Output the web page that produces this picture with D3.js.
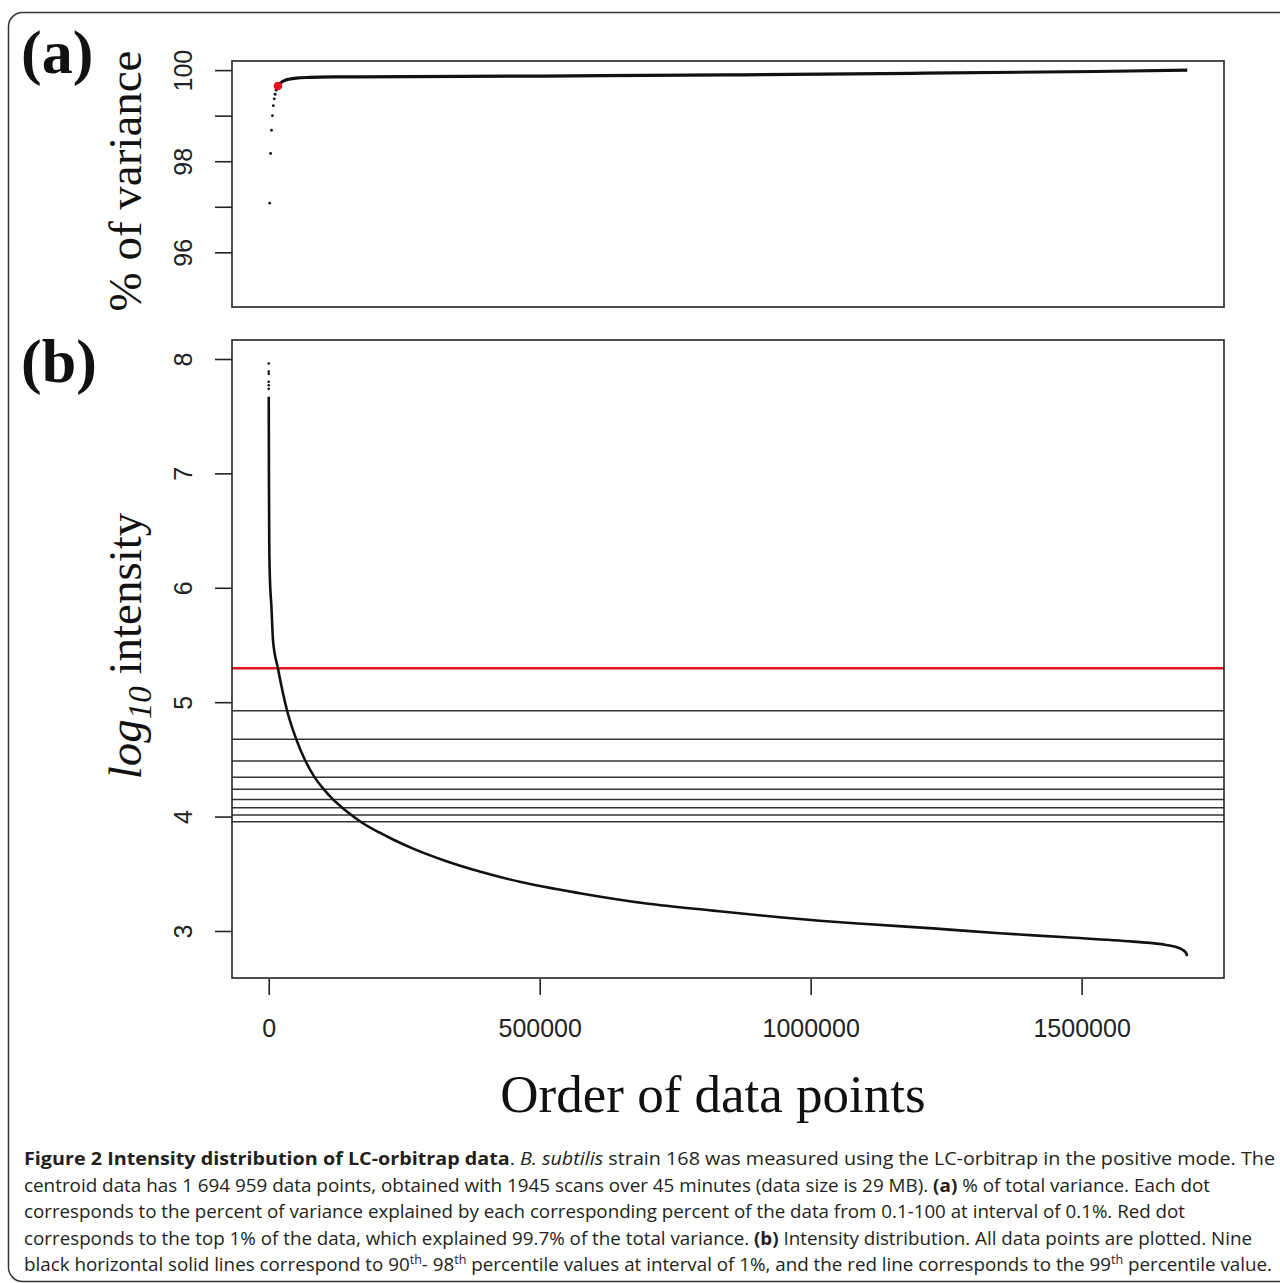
<!DOCTYPE html>
<html>
<head>
<meta charset="utf-8">
<script src="https://cdn.jsdelivr.net/npm/d3@7"></script>
<style>
  body { margin: 0; background: #fff; }
  svg { display: block; }
  .axis path.domain { display: none; }
  .axis line { stroke: #222; stroke-width: 1.6px; }
  .axis text { font-family: "Liberation Sans", Arial, sans-serif; font-size: 25px; fill: #222; }
  .cap { font-family: "Open Sans", sans-serif; font-size: 18px; fill: #231f20; }
</style>
</head>
<body>
<div id="chart"></div>
<script>
// total number of centroid data points
var nPoints = 1694959

// panel (a): % of variance explained by top x% of the data
var varPct = [0.1, 0.2, 0.3, 0.4, 0.5, 0.6, 0.7, 0.8, 0.9, 1.0]
var varVal = [97.08, 98.17, 98.68, 99.0, 99.22, 99.37, 99.47, 99.56, 99.62, 99.65]
var redPct = 1.0
// dense part (dots overlap into a line)
var varLinePct = [1.0, 1.3, 1.7, 2.2, 3, 4.5, 7, 10, 30, 50, 70, 90, 100]
var varLineVal = [99.65, 99.72, 99.77, 99.80, 99.825, 99.84, 99.85, 99.853, 99.87, 99.895, 99.93, 99.97, 100]
var varTicks = [96, 97, 98, 99, 100]

// panel (b): sorted log10 intensity vs order
var topDots = [7.96, 7.89, 7.87, 7.80, 7.77, 7.74]
var orderIdx = [0, 400, 900, 1850, 5000, 7900, 16950, 33900, 50850, 67800, 84750, 101700, 118650, 135600, 152550, 169500,
  204800, 229400, 266300, 327900, 389300, 463100, 573800, 696900, 819900, 942800, 1016600, 1102700, 1225700,
  1348700, 1471700, 1594800, 1656300, 1680900, 1693200, 1694400]
var logInt = [7.67, 6.9, 6.42, 6.13, 5.83, 5.54, 5.296, 4.925, 4.675, 4.486, 4.343, 4.238, 4.150, 4.078, 4.014, 3.955,
  3.859, 3.80, 3.72, 3.61, 3.52, 3.43, 3.33, 3.24, 3.178, 3.12, 3.09, 3.061, 3.023,
  2.98, 2.945, 2.907, 2.878, 2.849, 2.805, 2.78]
// 90th-98th percentile values and the 99th
var pctLines = [4.925, 4.675, 4.486, 4.343, 4.238, 4.150, 4.078, 4.014, 3.955]
var redLine = 5.296
var intTicks = [3, 4, 5, 6, 7, 8]
var orderTicks = [0, 500000, 1000000, 1500000]

var width = 1280, height = 1283
var boxA = {x0: 232, x1: 1224, y0: 61, y1: 307}
var boxB = {x0: 232, x1: 1224, y0: 340, y1: 978}

var svg = d3.select('#chart').append('svg').attr('width', width).attr('height', height)

// outer frame
svg.append('rect')
  .attr('x', 8.5).attr('y', 12.5).attr('width', 1300).attr('height', 1269)
  .attr('rx', 14).attr('fill', 'none').attr('stroke', '#333').attr('stroke-width', 1.5)

var xScale = d3.scaleLinear().domain([-0.04 * nPoints, 1.04 * nPoints]).range([boxA.x0, boxA.x1])
var yA = d3.scaleLinear().domain([94.8, 100.2]).range([boxA.y1, boxA.y0])
var yB = d3.scaleLinear().domain([2.589, 8.166]).range([boxB.y1, boxB.y0])

function pctToIdx (p) { return p / 100 * nPoints }

function rotateLabels (g) {
  g.selectAll('text')
    .attr('x', 0).attr('y', 0).attr('dy', 0)
    .style('text-anchor', 'middle')
    .attr('transform', 'translate(-40,0) rotate(-90)')
}

// ---- panel (a)
svg.append('g').classed('axis', true)
  .attr('transform', 'translate(' + boxA.x0 + ',0)')
  .call(d3.axisLeft(yA).tickValues(varTicks).tickSize(17).tickFormat(d => d % 2 === 0 ? d : ''))
  .call(rotateLabels)

var gA = svg.append('g')
gA.append('path')
  .datum(varLinePct.map((p, i) => [pctToIdx(p), varLineVal[i]]))
  .attr('fill', 'none').attr('stroke', '#111').attr('stroke-width', 3.2)
  .attr('d', d3.line().x(d => xScale(d[0])).y(d => yA(d[1])).curve(d3.curveMonotoneX))

gA.selectAll('circle.v')
  .data(varPct.map((p, i) => ({p: p, v: varVal[i]})))
  .enter().append('circle')
  .attr('cx', d => xScale(pctToIdx(d.p)))
  .attr('cy', d => yA(d.v))
  .attr('r', d => d.p === redPct ? 4.3 : 1.4)
  .attr('fill', d => d.p === redPct ? '#e8101a' : '#111')

svg.append('rect')
  .attr('x', boxA.x0).attr('y', boxA.y0).attr('width', boxA.x1 - boxA.x0).attr('height', boxA.y1 - boxA.y0)
  .attr('fill', 'none').attr('stroke', '#222').attr('stroke-width', 1.6)

// ---- panel (b)
svg.append('g').classed('axis', true)
  .attr('transform', 'translate(' + boxB.x0 + ',0)')
  .call(d3.axisLeft(yB).tickValues(intTicks).tickSize(17).tickFormat(d3.format('d')))
  .call(rotateLabels)

var xAxisG = svg.append('g').classed('axis', true)
  .attr('transform', 'translate(0,' + (boxB.y1 + 1) + ')')
  .call(d3.axisBottom(xScale).tickValues(orderTicks).tickSize(16).tickFormat(d3.format('d')))
xAxisG.selectAll('text').attr('y', 58).attr('dy', 0)

var gB = svg.append('g')
gB.selectAll('line.p')
  .data(pctLines)
  .enter().append('line')
  .attr('x1', boxB.x0).attr('x2', boxB.x1)
  .attr('y1', d => yB(d)).attr('y2', d => yB(d))
  .attr('stroke', '#333').attr('stroke-width', 1.5)

gB.append('line')
  .attr('x1', boxB.x0).attr('x2', boxB.x1)
  .attr('y1', yB(redLine)).attr('y2', yB(redLine))
  .attr('stroke', '#e8141c').attr('stroke-width', 2.6)

gB.append('path')
  .datum(orderIdx.map((o, i) => [o, logInt[i]]))
  .attr('fill', 'none').attr('stroke', '#111').attr('stroke-width', 2.6)
  .attr('d', d3.line().x(d => xScale(d[0])).y(d => yB(d[1])).curve(d3.curveMonotoneX))

gB.selectAll('circle.t')
  .data(topDots)
  .enter().append('circle')
  .attr('cx', xScale(0)).attr('cy', d => yB(d)).attr('r', 1.3).attr('fill', '#111')

svg.append('rect')
  .attr('x', boxB.x0).attr('y', boxB.y0).attr('width', boxB.x1 - boxB.x0).attr('height', boxB.y1 - boxB.y0)
  .attr('fill', 'none').attr('stroke', '#222').attr('stroke-width', 1.6)

// ---- panel letters and axis titles
var serif = '"Liberation Serif", "Times New Roman", serif'
svg.append('text').text('(a)').attr('x', 21).attr('y', 73)
  .attr('font-family', serif).attr('font-size', 62).attr('font-weight', 'bold').attr('fill', '#111')
svg.append('text').text('(b)').attr('x', 21).attr('y', 382)
  .attr('font-family', serif).attr('font-size', 62).attr('font-weight', 'bold').attr('fill', '#111')

svg.append('text').text('% of variance')
  .attr('transform', 'translate(141,181) rotate(-90)')
  .attr('text-anchor', 'middle')
  .attr('font-family', serif).attr('font-size', 47).attr('fill', '#111')

var yLab = svg.append('text')
  .attr('transform', 'translate(141,646) rotate(-90)')
  .attr('text-anchor', 'middle')
  .attr('font-family', serif).attr('font-size', 47).attr('fill', '#111')
yLab.append('tspan').text('log').attr('font-style', 'italic')
yLab.append('tspan').text('10').attr('font-style', 'italic').attr('font-size', 33).attr('dy', 10)
yLab.append('tspan').text(' intensity').attr('dy', -10)

svg.append('text').text('Order of data points')
  .attr('x', 713).attr('y', 1112).attr('text-anchor', 'middle')
  .attr('font-family', serif).attr('font-size', 53).attr('fill', '#111')

// ---- caption
var capLines = [
  [['Figure 2 Intensity distribution of LC-orbitrap data', 'b'], ['. ', ''], ['B. subtilis', 'i'],
    [' strain 168 was measured using the LC-orbitrap in the positive mode. The', '']],
  [['centroid data has 1 694 959 data points, obtained with 1945 scans over 45 minutes (data size is 29 MB). ', ''],
    ['(a)', 'b'], [' % of total variance. Each dot', '']],
  [['corresponds to the percent of variance explained by each corresponding percent of the data from 0.1-100 at interval of 0.1%. Red dot', '']],
  [['corresponds to the top 1% of the data, which explained 99.7% of the total variance. ', ''], ['(b)', 'b'],
    [' Intensity distribution. All data points are plotted. Nine', '']],
  [['black horizontal solid lines correspond to 90', ''], ['th', 'sup'], ['- 98', ''], ['th', 'sup'],
    [' percentile values at interval of 1%, and the red line corresponds to the 99', ''], ['th', 'sup'], [' percentile value.', '']]
]
var capWidths = [1251, 1186, 1161, 1228, 1248]

capLines.forEach((line, k) => {
  var t = svg.append('text').classed('cap', true)
    .attr('x', 24).attr('y', 1165 + k * 26.5)
    .attr('textLength', capWidths[k]).attr('lengthAdjust', 'spacingAndGlyphs')
  var raised = false
  line.forEach(seg => {
    var s = t.append('tspan').text(seg[0])
    if (seg[1] === 'b') s.attr('font-weight', 'bold')
    if (seg[1] === 'i') s.attr('font-style', 'italic')
    if (seg[1] === 'sup') {
      s.attr('font-size', 12).attr('dy', -7)
      raised = true
    } else if (raised) {
      s.attr('dy', 7)
      raised = false
    }
  })
})
</script>
</body>
</html>
